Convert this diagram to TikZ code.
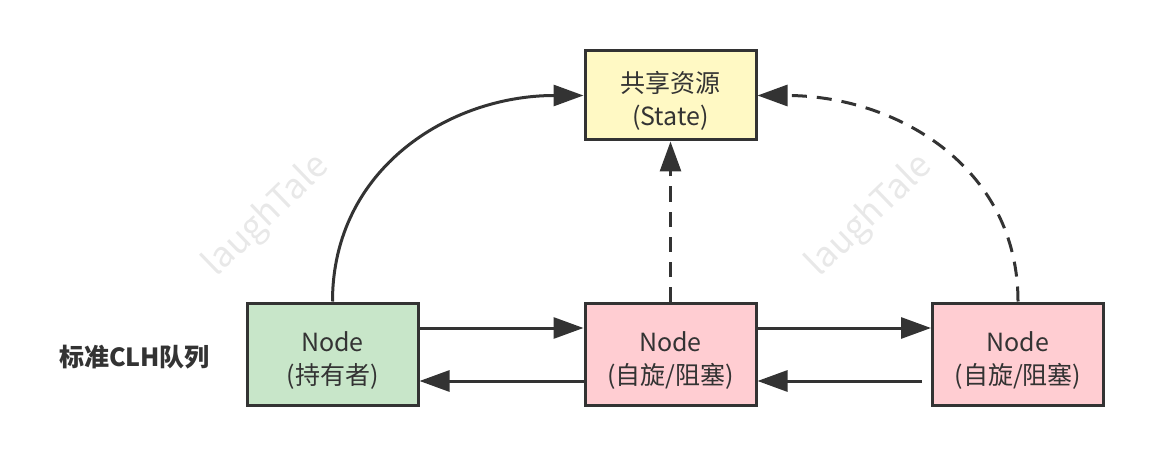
\documentclass[tikz,border=0pt]{standalone}
\usepackage{fontspec}
\setmainfont{Noto Sans CJK SC}
\usetikzlibrary{positioning,calc,arrows.meta}
\definecolor{edgeDark}{RGB}{51,51,51}
\definecolor{holdFill}{RGB}{200,230,201}
\definecolor{spinFill}{RGB}{255,205,210}
\definecolor{stateFill}{RGB}{255,249,196}
\definecolor{markGray}{RGB}{232,232,232}
% pushes the two text lines a little below the box centre
\newcommand{\padtop}{\rule{0pt}{32pt}}

\begin{document}
\begin{tikzpicture}[
  x=1pt,y=1pt,
  font=\fontsize{25}{33}\selectfont,
  box/.style={draw=edgeDark,line width=3pt,minimum width=171pt,
              minimum height=102pt,align=center,text=edgeDark,inner sep=0pt},
  tr/.style={-{Triangle[length=30pt,width=21pt]},line width=3pt,draw=edgeDark},
  trdash/.style={tr,dash pattern=on 15pt off 10pt},
  wmark/.style={text=markGray,rotate=44,font=\fontsize{35}{35}\selectfont}
]
\useasboundingbox (0,0) rectangle (1154,456);

% ==========  watermarks  ==========
\node[wmark] (wm1) at (267,240) {laughTale};
\node[wmark] (wm2) at (870,240) {laughTale};

% ==========  shared state (top)  ==========
\node[box,fill=stateFill,minimum height=89pt] (state) at (670.5,360.5)
  {\padtop 共享资源\\(State)};

% ==========  CLH queue (bottom row)  ==========
\node[box,fill=holdFill] (holder) at (332.5,102) {\padtop Node\\(持有者)};
\node[box,fill=spinFill] (spinA) at (670.5,102) {\padtop Node\\(自旋/阻塞)};
\node[box,fill=spinFill] (spinB) at (1018,102) {\padtop Node\\(自旋/阻塞)};

\node[text=edgeDark,font=\fontsize{25}{25}\selectfont\bfseries] (qlabel) at (134.5,99)
  {标准CLH队列};

% ==========  next / prev links  ==========
\draw[tr] ([yshift=26pt]holder.east) -- ([yshift=26pt]spinA.west);
\draw[tr] ([yshift=-27pt]spinA.west) -- ([yshift=-27pt]holder.east);
\draw[tr] ([yshift=26pt]spinA.east) -- ([yshift=26pt]spinB.west);
\draw[tr,shorten <=9pt] ([yshift=-27pt]spinB.west) -- ([yshift=-27pt]spinA.east);

% ==========  access to state  ==========
\draw[tr] (holder.north) to[out=90,in=180,looseness=1.05] (state.west);
\draw[trdash] (spinA.north) -- (state.south);
\draw[trdash] (spinB.north) to[out=90,in=0,looseness=1.05] (state.east);

\end{tikzpicture}
\end{document}
